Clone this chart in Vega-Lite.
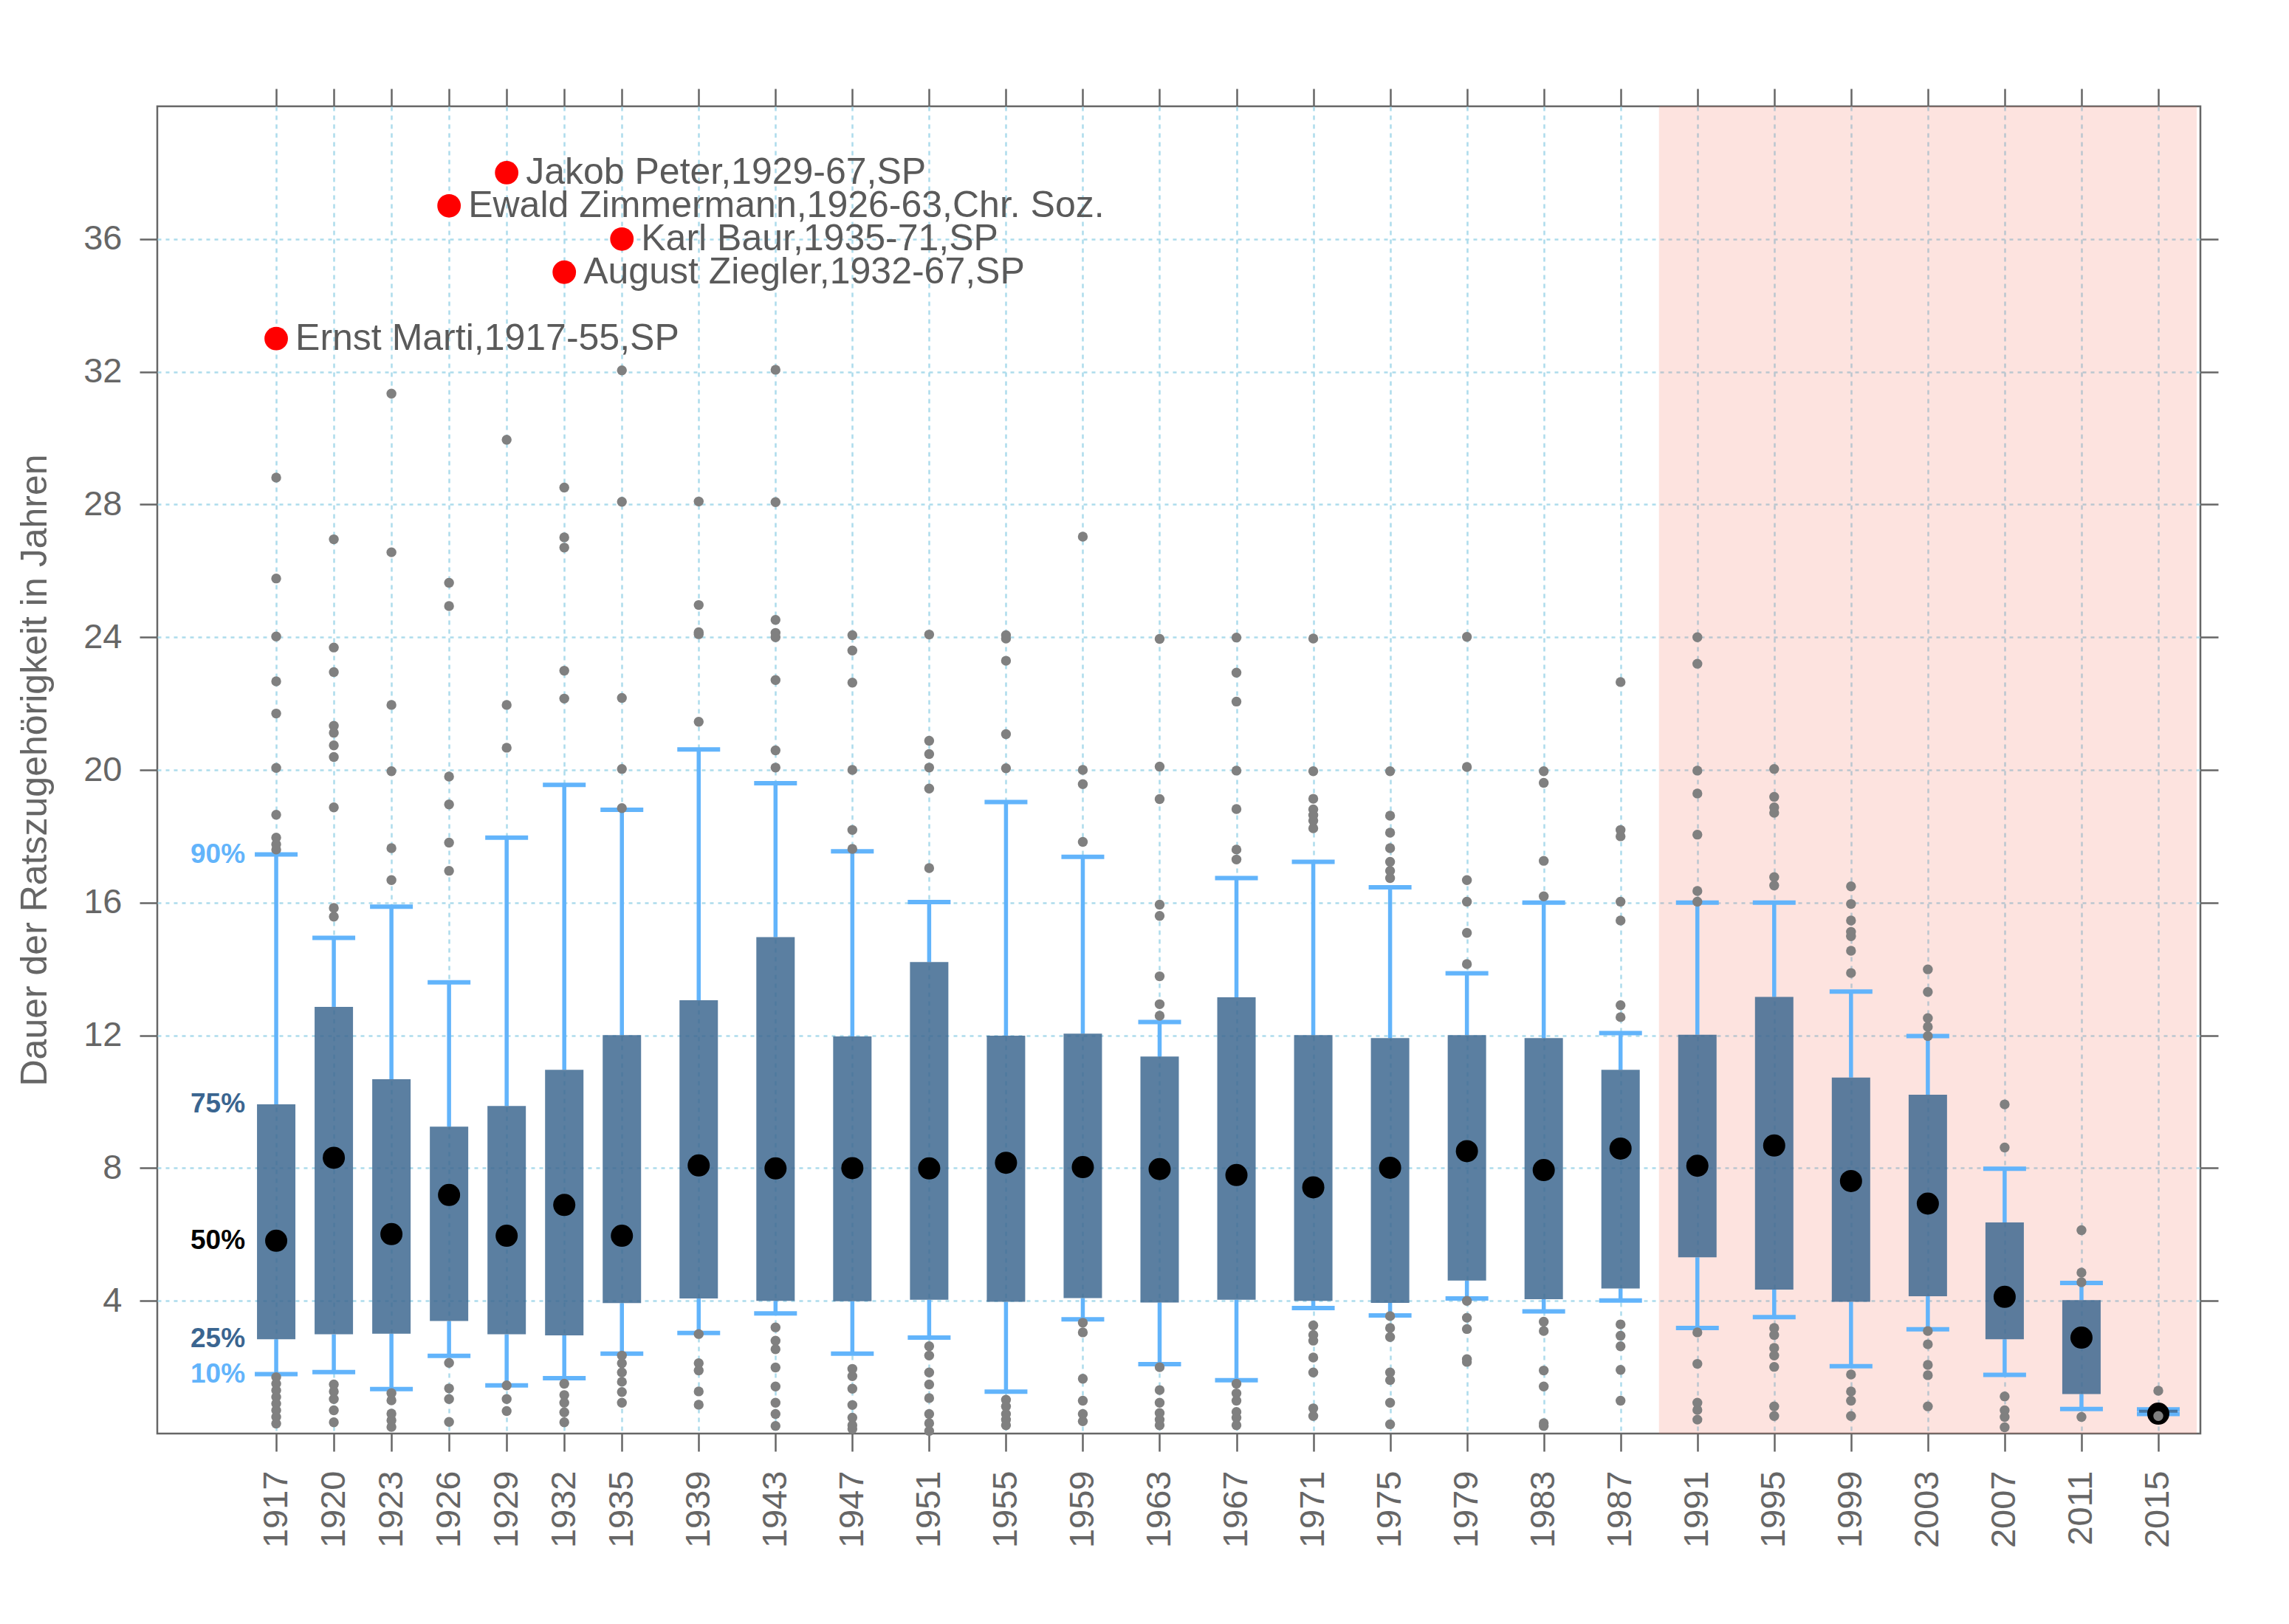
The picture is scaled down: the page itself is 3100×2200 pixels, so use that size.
{
  "$schema": "https://vega.github.io/schema/vega-lite/v6.json",
  "width": 2767,
  "height": 1798,
  "autosize": {"type": "none"},
  "padding": {"left": 213, "top": 144, "right": 120, "bottom": 258},
  "background": "white",
  "config": {"view": {"stroke": "#666666", "strokeWidth": 2.5}, "font": "Liberation Sans"},
  "datasets": {
    "shade": [{"from": 1989, "to": 2017}],
    "stats": [
      {"year": 1917, "p10": 1.79, "p25": 2.84, "p50": 5.81, "p75": 9.92, "p90": 17.45},
      {"year": 1920, "p10": 1.85, "p25": 2.99, "p50": 8.31, "p75": 12.86, "p90": 14.94},
      {"year": 1923, "p10": 1.34, "p25": 3.01, "p50": 6.01, "p75": 10.68, "p90": 15.88},
      {"year": 1926, "p10": 2.34, "p25": 3.39, "p50": 7.19, "p75": 9.25, "p90": 13.6},
      {"year": 1929, "p10": 1.45, "p25": 2.99, "p50": 5.96, "p75": 9.87, "p90": 17.96},
      {"year": 1932, "p10": 1.67, "p25": 2.96, "p50": 6.89, "p75": 10.96, "p90": 19.55},
      {"year": 1935, "p10": 2.41, "p25": 3.93, "p50": 5.96, "p75": 12.01, "p90": 18.8},
      {"year": 1939, "p10": 3.03, "p25": 4.07, "p50": 8.08, "p75": 13.06, "p90": 20.62},
      {"year": 1943, "p10": 3.62, "p25": 4.0, "p50": 7.99, "p75": 14.96, "p90": 19.6},
      {"year": 1947, "p10": 2.41, "p25": 3.99, "p50": 8.0, "p75": 11.97, "p90": 17.55},
      {"year": 1951, "p10": 2.89, "p25": 4.03, "p50": 7.99, "p75": 14.21, "p90": 16.02},
      {"year": 1955, "p10": 1.26, "p25": 3.97, "p50": 8.16, "p75": 11.99, "p90": 19.03},
      {"year": 1959, "p10": 3.44, "p25": 4.08, "p50": 8.03, "p75": 12.05, "p90": 17.38},
      {"year": 1963, "p10": 2.09, "p25": 3.95, "p50": 7.97, "p75": 11.36, "p90": 12.4},
      {"year": 1967, "p10": 1.61, "p25": 4.03, "p50": 7.79, "p75": 13.15, "p90": 16.74},
      {"year": 1971, "p10": 3.78, "p25": 4.0, "p50": 7.42, "p75": 12.01, "p90": 17.23},
      {"year": 1975, "p10": 3.56, "p25": 3.94, "p50": 8.01, "p75": 11.92, "p90": 16.46},
      {"year": 1979, "p10": 4.07, "p25": 4.61, "p50": 8.51, "p75": 12.01, "p90": 13.87},
      {"year": 1983, "p10": 3.68, "p25": 4.05, "p50": 7.94, "p75": 11.92, "p90": 16.0},
      {"year": 1987, "p10": 4.01, "p25": 4.37, "p50": 8.59, "p75": 10.96, "p90": 12.07},
      {"year": 1991, "p10": 3.18, "p25": 5.31, "p50": 8.07, "p75": 12.02, "p90": 16.0},
      {"year": 1995, "p10": 3.51, "p25": 4.34, "p50": 8.68, "p75": 13.16, "p90": 16.0},
      {"year": 1999, "p10": 2.03, "p25": 3.97, "p50": 7.61, "p75": 10.73, "p90": 13.32},
      {"year": 2003, "p10": 3.14, "p25": 4.14, "p50": 6.93, "p75": 10.21, "p90": 11.98},
      {"year": 2007, "p10": 1.77, "p25": 2.84, "p50": 4.12, "p75": 6.36, "p90": 7.98},
      {"year": 2011, "p10": 0.74, "p25": 1.19, "p50": 2.89, "p75": 4.02, "p90": 4.54},
      {"year": 2015, "p10": 0.59, "p25": 0.63, "p50": 0.6, "p75": 0.72, "p90": 0.73}
    ],
    "outliers": [
      {"year": 1917, "value": 28.81}, {"year": 1917, "value": 25.77}, {"year": 1917, "value": 24.02}, {"year": 1917, "value": 22.67}, {"year": 1917, "value": 21.7}, {"year": 1917, "value": 20.06}, {"year": 1917, "value": 18.65}, {"year": 1917, "value": 17.96}, {"year": 1917, "value": 17.76}, {"year": 1917, "value": 17.6}, {"year": 1917, "value": 1.7}, {"year": 1917, "value": 1.5}, {"year": 1917, "value": 1.3}, {"year": 1917, "value": 1.1}, {"year": 1917, "value": 0.9}, {"year": 1917, "value": 0.7}, {"year": 1917, "value": 0.5}, {"year": 1917, "value": 0.3},
      {"year": 1920, "value": 26.95}, {"year": 1920, "value": 23.69}, {"year": 1920, "value": 22.95}, {"year": 1920, "value": 21.33}, {"year": 1920, "value": 21.12}, {"year": 1920, "value": 20.74}, {"year": 1920, "value": 20.39}, {"year": 1920, "value": 18.87}, {"year": 1920, "value": 15.84}, {"year": 1920, "value": 15.58}, {"year": 1920, "value": 1.48}, {"year": 1920, "value": 1.27}, {"year": 1920, "value": 1.04}, {"year": 1920, "value": 0.7}, {"year": 1920, "value": 0.34},
      {"year": 1923, "value": 31.34}, {"year": 1923, "value": 26.56}, {"year": 1923, "value": 21.96}, {"year": 1923, "value": 19.96}, {"year": 1923, "value": 17.64}, {"year": 1923, "value": 16.68}, {"year": 1923, "value": 1.22}, {"year": 1923, "value": 1.0}, {"year": 1923, "value": 0.6}, {"year": 1923, "value": 0.4}, {"year": 1923, "value": 0.2},
      {"year": 1926, "value": 25.64}, {"year": 1926, "value": 24.94}, {"year": 1926, "value": 19.8}, {"year": 1926, "value": 18.96}, {"year": 1926, "value": 17.81}, {"year": 1926, "value": 16.96}, {"year": 1926, "value": 2.13}, {"year": 1926, "value": 1.36}, {"year": 1926, "value": 1.04}, {"year": 1926, "value": 0.35},
      {"year": 1929, "value": 29.95}, {"year": 1929, "value": 21.96}, {"year": 1929, "value": 20.67}, {"year": 1929, "value": 1.45}, {"year": 1929, "value": 1.04}, {"year": 1929, "value": 0.68},
      {"year": 1932, "value": 28.51}, {"year": 1932, "value": 27.01}, {"year": 1932, "value": 26.7}, {"year": 1932, "value": 22.99}, {"year": 1932, "value": 22.15}, {"year": 1932, "value": 1.5}, {"year": 1932, "value": 1.16}, {"year": 1932, "value": 0.93}, {"year": 1932, "value": 0.64}, {"year": 1932, "value": 0.34},
      {"year": 1935, "value": 32.04}, {"year": 1935, "value": 28.08}, {"year": 1935, "value": 22.17}, {"year": 1935, "value": 20.03}, {"year": 1935, "value": 18.85}, {"year": 1935, "value": 2.35}, {"year": 1935, "value": 2.12}, {"year": 1935, "value": 1.84}, {"year": 1935, "value": 1.56}, {"year": 1935, "value": 1.25}, {"year": 1935, "value": 0.93},
      {"year": 1939, "value": 28.09}, {"year": 1939, "value": 24.97}, {"year": 1939, "value": 24.15}, {"year": 1939, "value": 24.09}, {"year": 1939, "value": 21.45}, {"year": 1939, "value": 3.0}, {"year": 1939, "value": 2.12}, {"year": 1939, "value": 1.9}, {"year": 1939, "value": 1.27}, {"year": 1939, "value": 0.87},
      {"year": 1943, "value": 32.06}, {"year": 1943, "value": 28.07}, {"year": 1943, "value": 24.52}, {"year": 1943, "value": 24.13}, {"year": 1943, "value": 24.0}, {"year": 1943, "value": 22.71}, {"year": 1943, "value": 20.59}, {"year": 1943, "value": 20.07}, {"year": 1943, "value": 3.2}, {"year": 1943, "value": 2.8}, {"year": 1943, "value": 2.54}, {"year": 1943, "value": 1.99}, {"year": 1943, "value": 1.42}, {"year": 1943, "value": 0.93}, {"year": 1943, "value": 0.59}, {"year": 1943, "value": 0.23},
      {"year": 1947, "value": 24.06}, {"year": 1947, "value": 23.6}, {"year": 1947, "value": 22.63}, {"year": 1947, "value": 20.0}, {"year": 1947, "value": 18.19}, {"year": 1947, "value": 17.62}, {"year": 1947, "value": 1.95}, {"year": 1947, "value": 1.73}, {"year": 1947, "value": 1.35}, {"year": 1947, "value": 0.86}, {"year": 1947, "value": 0.48}, {"year": 1947, "value": 0.25}, {"year": 1947, "value": 0.14},
      {"year": 1951, "value": 24.08}, {"year": 1951, "value": 20.88}, {"year": 1951, "value": 20.48}, {"year": 1951, "value": 20.07}, {"year": 1951, "value": 19.44}, {"year": 1951, "value": 17.04}, {"year": 1951, "value": 2.63}, {"year": 1951, "value": 2.35}, {"year": 1951, "value": 1.84}, {"year": 1951, "value": 1.48}, {"year": 1951, "value": 1.07}, {"year": 1951, "value": 0.59}, {"year": 1951, "value": 0.31}, {"year": 1951, "value": 0.08},
      {"year": 1955, "value": 24.06}, {"year": 1955, "value": 23.96}, {"year": 1955, "value": 23.29}, {"year": 1955, "value": 21.08}, {"year": 1955, "value": 20.05}, {"year": 1955, "value": 1.02}, {"year": 1955, "value": 0.82}, {"year": 1955, "value": 0.59}, {"year": 1955, "value": 0.42}, {"year": 1955, "value": 0.25},
      {"year": 1959, "value": 27.03}, {"year": 1959, "value": 20.0}, {"year": 1959, "value": 19.57}, {"year": 1959, "value": 17.83}, {"year": 1959, "value": 3.34}, {"year": 1959, "value": 3.05}, {"year": 1959, "value": 1.65}, {"year": 1959, "value": 0.99}, {"year": 1959, "value": 0.59}, {"year": 1959, "value": 0.37},
      {"year": 1963, "value": 23.95}, {"year": 1963, "value": 20.1}, {"year": 1963, "value": 19.12}, {"year": 1963, "value": 15.94}, {"year": 1963, "value": 15.6}, {"year": 1963, "value": 13.78}, {"year": 1963, "value": 12.94}, {"year": 1963, "value": 12.59}, {"year": 1963, "value": 2.0}, {"year": 1963, "value": 1.31}, {"year": 1963, "value": 0.93}, {"year": 1963, "value": 0.62}, {"year": 1963, "value": 0.42}, {"year": 1963, "value": 0.25},
      {"year": 1967, "value": 23.99}, {"year": 1967, "value": 22.93}, {"year": 1967, "value": 22.06}, {"year": 1967, "value": 19.98}, {"year": 1967, "value": 18.82}, {"year": 1967, "value": 17.6}, {"year": 1967, "value": 17.3}, {"year": 1967, "value": 1.5}, {"year": 1967, "value": 1.21}, {"year": 1967, "value": 0.99}, {"year": 1967, "value": 0.65}, {"year": 1967, "value": 0.48}, {"year": 1967, "value": 0.25},
      {"year": 1971, "value": 23.96}, {"year": 1971, "value": 19.96}, {"year": 1971, "value": 19.13}, {"year": 1971, "value": 18.81}, {"year": 1971, "value": 18.64}, {"year": 1971, "value": 18.47}, {"year": 1971, "value": 18.24}, {"year": 1971, "value": 3.26}, {"year": 1971, "value": 2.97}, {"year": 1971, "value": 2.8}, {"year": 1971, "value": 2.29}, {"year": 1971, "value": 1.84}, {"year": 1971, "value": 0.76}, {"year": 1971, "value": 0.53},
      {"year": 1975, "value": 19.96}, {"year": 1975, "value": 18.62}, {"year": 1975, "value": 18.11}, {"year": 1975, "value": 17.64}, {"year": 1975, "value": 17.23}, {"year": 1975, "value": 16.96}, {"year": 1975, "value": 16.74}, {"year": 1975, "value": 3.54}, {"year": 1975, "value": 3.18}, {"year": 1975, "value": 2.91}, {"year": 1975, "value": 1.84}, {"year": 1975, "value": 1.61}, {"year": 1975, "value": 0.93}, {"year": 1975, "value": 0.28},
      {"year": 1979, "value": 24.01}, {"year": 1979, "value": 20.09}, {"year": 1979, "value": 16.68}, {"year": 1979, "value": 16.03}, {"year": 1979, "value": 15.09}, {"year": 1979, "value": 14.15}, {"year": 1979, "value": 4.0}, {"year": 1979, "value": 3.49}, {"year": 1979, "value": 3.15}, {"year": 1979, "value": 2.24}, {"year": 1979, "value": 2.16},
      {"year": 1983, "value": 19.96}, {"year": 1983, "value": 19.61}, {"year": 1983, "value": 17.26}, {"year": 1983, "value": 16.19}, {"year": 1983, "value": 3.37}, {"year": 1983, "value": 3.09}, {"year": 1983, "value": 1.9}, {"year": 1983, "value": 1.42}, {"year": 1983, "value": 0.31}, {"year": 1983, "value": 0.23},
      {"year": 1987, "value": 22.65}, {"year": 1987, "value": 18.19}, {"year": 1987, "value": 18.0}, {"year": 1987, "value": 16.03}, {"year": 1987, "value": 15.46}, {"year": 1987, "value": 12.91}, {"year": 1987, "value": 12.55}, {"year": 1987, "value": 3.29}, {"year": 1987, "value": 2.95}, {"year": 1987, "value": 2.63}, {"year": 1987, "value": 1.92}, {"year": 1987, "value": 0.99},
      {"year": 1991, "value": 24.0}, {"year": 1991, "value": 23.2}, {"year": 1991, "value": 19.98}, {"year": 1991, "value": 19.29}, {"year": 1991, "value": 18.05}, {"year": 1991, "value": 16.35}, {"year": 1991, "value": 16.03}, {"year": 1991, "value": 3.05}, {"year": 1991, "value": 2.1}, {"year": 1991, "value": 0.93}, {"year": 1991, "value": 0.71}, {"year": 1991, "value": 0.42},
      {"year": 1995, "value": 20.03}, {"year": 1995, "value": 19.19}, {"year": 1995, "value": 18.87}, {"year": 1995, "value": 18.71}, {"year": 1995, "value": 16.77}, {"year": 1995, "value": 16.52}, {"year": 1995, "value": 3.18}, {"year": 1995, "value": 2.97}, {"year": 1995, "value": 2.58}, {"year": 1995, "value": 2.35}, {"year": 1995, "value": 2.01}, {"year": 1995, "value": 0.82}, {"year": 1995, "value": 0.53},
      {"year": 1999, "value": 16.49}, {"year": 1999, "value": 15.96}, {"year": 1999, "value": 15.46}, {"year": 1999, "value": 15.12}, {"year": 1999, "value": 14.99}, {"year": 1999, "value": 14.55}, {"year": 1999, "value": 13.88}, {"year": 1999, "value": 1.78}, {"year": 1999, "value": 1.27}, {"year": 1999, "value": 0.99}, {"year": 1999, "value": 0.53},
      {"year": 2003, "value": 13.99}, {"year": 2003, "value": 13.31}, {"year": 2003, "value": 12.52}, {"year": 2003, "value": 12.26}, {"year": 2003, "value": 11.98}, {"year": 2003, "value": 3.09}, {"year": 2003, "value": 2.69}, {"year": 2003, "value": 2.07}, {"year": 2003, "value": 1.76}, {"year": 2003, "value": 0.82},
      {"year": 2007, "value": 9.92}, {"year": 2007, "value": 8.62}, {"year": 2007, "value": 1.12}, {"year": 2007, "value": 0.7}, {"year": 2007, "value": 0.5}, {"year": 2007, "value": 0.19},
      {"year": 2011, "value": 6.13}, {"year": 2011, "value": 4.85}, {"year": 2011, "value": 4.56}, {"year": 2011, "value": 0.5},
      {"year": 2015, "value": 1.29}, {"year": 2015, "value": 0.53}
    ],
    "notable": [
      {"year": 1917, "value": 33, "label": "Ernst Marti,1917-55,SP"},
      {"year": 1926, "value": 37, "label": "Ewald Zimmermann,1926-63,Chr. Soz."},
      {"year": 1929, "value": 38, "label": "Jakob Peter,1929-67,SP"},
      {"year": 1932, "value": 35, "label": "August Ziegler,1932-67,SP"},
      {"year": 1935, "value": 36, "label": "Karl Baur,1935-71,SP"}
    ],
    "pct": [
      {"year": 1917, "value": 17.45, "label": "90%"},
      {"year": 1917, "value": 9.92, "label": "75%"},
      {"year": 1917, "value": 5.81, "label": "50%"},
      {"year": 1917, "value": 2.84, "label": "25%"},
      {"year": 1917, "value": 1.79, "label": "10%"}
    ]
  },
  "resolve": {"axis": {"x": "independent", "y": "independent"}},
  "layer": [
    {
      "data": {"name": "shade"},
      "mark": {"type": "rect", "color": "#f5735f", "opacity": 0.2},
      "encoding": {
        "x": {"field": "from", "type": "quantitative", "scale": {"domain": [1911, 2017], "nice": false, "zero": false}, "axis": null},
        "x2": {"field": "to"}
      }
    },
    {
      "data": {"name": "stats"},
      "mark": {"type": "rule", "color": "#62b4fb", "strokeWidth": 5.5},
      "encoding": {
        "x": {"field": "year", "type": "quantitative", "scale": {"domain": [1911, 2017], "nice": false, "zero": false},
          "axis": {"orient": "bottom", "values": [1917, 1920, 1923, 1926, 1929, 1932, 1935, 1939, 1943, 1947, 1951, 1955, 1959, 1963, 1967, 1971, 1975, 1979, 1983, 1987, 1991, 1995, 1999, 2003, 2007, 2011, 2015],
            "format": "d", "labelAngle": -90, "labelFontSize": 47, "labelColor": "#666666", "labelFont": "Liberation Sans", "labelPadding": 26, "labelOverlap": false, "labelFlush": false,
            "tickSize": 24, "tickWidth": 2.5, "tickColor": "#666666", "domain": false,
            "grid": true, "gridColor": "#addcec", "gridDash": [6, 6], "gridWidth": 2.5, "title": null}},
        "y": {"field": "p75", "type": "quantitative", "scale": {"domain": [0, 40], "nice": false, "zero": false},
          "axis": {"orient": "left", "values": [4, 8, 12, 16, 20, 24, 28, 32, 36], "labelFontSize": 47, "labelColor": "#666666", "labelFont": "Liberation Sans", "labelPadding": 24,
            "tickSize": 24, "tickWidth": 2.5, "tickColor": "#666666", "domain": false,
            "grid": true, "gridColor": "#addcec", "gridDash": [5, 6], "gridWidth": 2.5,
            "title": "Dauer der Ratszugehörigkeit in Jahren", "titleFontSize": 50, "titleColor": "#666666", "titleFont": "Liberation Sans", "titleFontWeight": "normal",
            "titleX": -151, "titleY": 899, "titleAngle": 270, "titleAlign": "center", "titleBaseline": "alphabetic"}},
        "y2": {"field": "p90"}
      }
    },
    {
      "data": {"name": "stats"},
      "mark": {"type": "rule", "color": "#62b4fb", "strokeWidth": 5.5},
      "encoding": {
        "x": {"field": "year", "type": "quantitative",
          "axis": {"orient": "top", "values": [1917, 1920, 1923, 1926, 1929, 1932, 1935, 1939, 1943, 1947, 1951, 1955, 1959, 1963, 1967, 1971, 1975, 1979, 1983, 1987, 1991, 1995, 1999, 2003, 2007, 2011, 2015],
            "labels": false, "tickSize": 24, "tickWidth": 2.5, "tickColor": "#666666", "domain": false, "grid": false, "title": null}},
        "y": {"field": "p10", "type": "quantitative",
          "axis": {"orient": "right", "values": [4, 8, 12, 16, 20, 24, 28, 32, 36], "labels": false, "tickSize": 24, "tickWidth": 2.5, "tickColor": "#666666", "domain": false, "grid": false, "title": null}},
        "y2": {"field": "p25"}
      }
    },
    {
      "data": {"name": "stats"},
      "mark": {"type": "tick", "orient": "horizontal", "color": "#62b4fb", "size": 58, "thickness": 6, "opacity": 1},
      "encoding": {
        "x": {"field": "year", "type": "quantitative", "axis": null},
        "y": {"field": "p90", "type": "quantitative", "axis": null}
      }
    },
    {
      "data": {"name": "stats"},
      "mark": {"type": "tick", "orient": "horizontal", "color": "#62b4fb", "size": 58, "thickness": 6, "opacity": 1},
      "encoding": {
        "x": {"field": "year", "type": "quantitative", "axis": null},
        "y": {"field": "p10", "type": "quantitative", "axis": null}
      }
    },
    {
      "data": {"name": "stats"},
      "mark": {"type": "bar", "orient": "vertical", "size": 52, "color": "#3e6990", "opacity": 0.85},
      "encoding": {
        "x": {"field": "year", "type": "quantitative", "axis": null},
        "y": {"field": "p25", "type": "quantitative", "axis": null},
        "y2": {"field": "p75"}
      }
    },
    {
      "data": {"name": "stats"},
      "mark": {"type": "point", "shape": "circle", "filled": true, "size": 900, "color": "#000000", "opacity": 1},
      "encoding": {
        "x": {"field": "year", "type": "quantitative", "axis": null},
        "y": {"field": "p50", "type": "quantitative", "axis": null}
      }
    },
    {
      "data": {"name": "outliers"},
      "mark": {"type": "point", "shape": "circle", "filled": true, "size": 180, "color": "#808080", "opacity": 1},
      "encoding": {
        "x": {"field": "year", "type": "quantitative", "axis": null},
        "y": {"field": "value", "type": "quantitative", "axis": null}
      }
    },
    {
      "data": {"name": "notable"},
      "mark": {"type": "point", "shape": "circle", "filled": true, "size": 1010, "color": "#ff0000", "opacity": 1},
      "encoding": {
        "x": {"field": "year", "type": "quantitative", "axis": null},
        "y": {"field": "value", "type": "quantitative", "axis": null}
      }
    },
    {
      "data": {"name": "notable"},
      "mark": {"type": "text", "align": "left", "baseline": "middle", "dx": 26, "fontSize": 50, "font": "Liberation Sans", "color": "#5a5a5a"},
      "encoding": {
        "x": {"field": "year", "type": "quantitative", "axis": null},
        "y": {"field": "value", "type": "quantitative", "axis": null},
        "text": {"field": "label"}
      }
    },
    {
      "data": {"name": "pct"},
      "mark": {"type": "text", "align": "right", "baseline": "middle", "dx": -42, "fontSize": 37, "fontWeight": "bold", "font": "Liberation Sans"},
      "encoding": {
        "x": {"field": "year", "type": "quantitative", "axis": null},
        "y": {"field": "value", "type": "quantitative", "axis": null},
        "text": {"field": "label"},
        "color": {"field": "label", "type": "nominal", "legend": null,
          "scale": {"domain": ["90%", "75%", "50%", "25%", "10%"], "range": ["#62b4fb", "#3a6590", "#000000", "#3a6590", "#62b4fb"]}}
      }
    }
  ]
}
